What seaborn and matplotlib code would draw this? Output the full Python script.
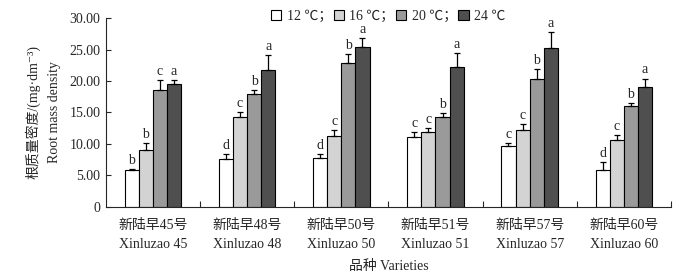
import numpy as np
import pandas as pd
import matplotlib
matplotlib.use('Agg')
import matplotlib.pyplot as plt
from matplotlib.ticker import FixedLocator
import seaborn as sns

# Daten
varieties = ['新陆早45号\nXinluzao 45', '新陆早48号\nXinluzao 48', '新陆早50号\nXinluzao 50',
             '新陆早51号\nXinluzao 51', '新陆早57号\nXinluzao 57', '新陆早60号\nXinluzao 60']
temps = ['12 ℃；', '16 ℃；', '20 ℃；', '24 ℃']

t12 = [5.8, 7.55, 7.7, 11.1, 9.7, 5.85]
t16 = [9.1, 14.2, 11.25, 11.85, 12.2, 10.6]
t20 = [18.5, 18.0, 22.9, 14.2, 20.4, 16.0]
t24 = [19.6, 21.7, 25.5, 22.2, 25.2, 19.1]

e12 = [0.2, 0.85, 0.7, 0.8, 0.5, 1.3]
e16 = [1.1, 0.8, 0.9, 0.6, 0.9, 0.85]
e20 = [1.6, 0.6, 1.4, 0.7, 1.5, 0.5]
e24 = [0.6, 2.5, 1.4, 2.2, 2.6, 1.3]

l12 = ['b', 'd', 'd', 'c', 'c', 'd']
l16 = ['b', 'c', 'c', 'c', 'c', 'c']
l20 = ['c', 'b', 'b', 'b', 'b', 'b']
l24 = ['a', 'a', 'a', 'a', 'a', 'a']

values = [t12, t16, t20, t24]
errors = [e12, e16, e20, e24]
letters = [l12, l16, l20, l24]

df = pd.DataFrame({
    'Sorte': np.tile(varieties, len(temps)),
    'Temperatur': np.repeat(temps, len(varieties)),
    'Wert': np.concatenate(values),
})

sns.set_style('ticks')
plt.rcParams['font.family'] = ['Liberation Serif', 'Noto Sans CJK SC', 'DejaVu Sans']
plt.rcParams['font.size'] = 10

colors = ['#ffffff', '#d3d3d3', '#9a9a9a', '#4f4f4f']

fig = plt.figure(figsize=(6.96, 2.73), dpi=100)
ax = fig.add_axes([0.152, 0.243, 0.812, 0.69])

sns.barplot(data=df, x='Sorte', y='Wert', hue='Temperatur', hue_order=temps, order=varieties,
            palette=colors, width=0.6, gap=0, edgecolor='black', linewidth=0.8,
            errorbar=None, ax=ax, legend=False)

bar_containers = list(ax.containers)

# Fehlerbalken und Buchstaben
for i, cont in enumerate(bar_containers):
    for j, bar in enumerate(cont.patches):
        x = bar.get_x() + bar.get_width() / 2
        h = bar.get_height()
        err = errors[i][j]
        ax.errorbar(x, h, yerr=[[0], [err]], fmt='none', ecolor='black',
                    elinewidth=0.9, capsize=2.2, capthick=0.9)
        ax.annotate(letters[i][j], (x, h + err), xytext=(0, 1.5), textcoords='offset points',
                    ha='center', va='bottom', fontsize=10)

ax.set_ylim(0, 30)
ax.set_xlim(-0.5, 5.5)
ax.set_yticks([0, 5, 10, 15, 20, 25, 30])
ax.set_yticklabels(['0', '5.00', '10.00', '15.00', '20.00', '25.00', '30.00'])
ax.tick_params(axis='y', direction='in', length=3.5, width=0.8, pad=4)
ax.tick_params(axis='x', which='major', length=0, pad=9)
ax.xaxis.set_minor_locator(FixedLocator([0.5, 1.5, 2.5, 3.5, 4.5, 5.5]))
ax.tick_params(axis='x', which='minor', direction='in', length=4, width=0.8)
for lab in ax.get_xticklabels():
    lab.set_linespacing(1.6)

sns.despine(ax=ax)
ax.spines['left'].set_linewidth(0.8)
ax.spines['bottom'].set_linewidth(0.8)

ax.set_xlabel('品种 Varieties', labelpad=6)
ax.set_ylabel('根质量密度/(mg·dm⁻³)\nRoot mass density', linespacing=1.7, labelpad=6)

handles = [cont.patches[0] for cont in bar_containers]
ax.legend(handles, temps, ncol=4, frameon=False, loc='center', bbox_to_anchor=(0.5, 1.01),
          handlelength=0.75, handleheight=0.75, handletextpad=0.4, columnspacing=0.1,
          borderaxespad=0, fontsize=10)

plt.savefig('out.png', dpi=100)
